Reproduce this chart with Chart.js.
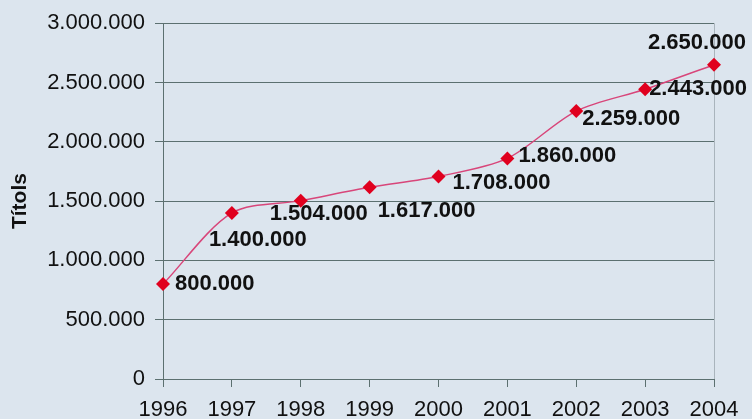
<!DOCTYPE html>
<html lang="ca">
<head>
<meta charset="UTF-8">
<title>Títols</title>
<script src="https://cdn.jsdelivr.net/npm/chart.js"></script>
<style>
  html, body { margin: 0; padding: 0; background: #dce5ee; }
  #wrap { width: 752px; height: 419px; }
</style>
</head>
<body>
<div id="wrap"><canvas id="chart" width="752" height="419"></canvas></div>
<script>
// data
const years = ['1996', '1997', '1998', '1999', '2000', '2001', '2002', '2003', '2004'];
const titols = [800000, 1400000, 1504000, 1617000, 1708000, 1860000, 2259000, 2443000, 2650000];

// label offsets relative to each point (left edge, vertical centre)
const labelDx = [12, -23, -31, 8, 14, 11, 6, 4, -66];
const labelDy = [0, 27, 13, 24, 7, -2, 8, 0, -22];

const fmt = v => v.toLocaleString('de-DE');
const FONT = '"Liberation Sans", Arial, sans-serif';

const pointLabels = {
    id: 'pointLabels',
    afterDatasetsDraw(chart) {
        const ctx = chart.ctx;
        const meta = chart.getDatasetMeta(0);
        ctx.save();
        ctx.font = 'bold 22px ' + FONT;
        ctx.fillStyle = '#111';
        ctx.textAlign = 'left';
        ctx.textBaseline = 'middle';
        meta.data.forEach((pt, i) => {
            ctx.fillText(fmt(titols[i]), pt.x + labelDx[i], pt.y + labelDy[i]);
        });
        ctx.restore();
    }
};

const frame = {
    id: 'frame',
    beforeDatasetsDraw(chart) {
        const a = chart.chartArea;
        const ctx = chart.ctx;
        ctx.save();
        ctx.strokeStyle = '#a9b4bc';
        ctx.lineWidth = 1;
        ctx.beginPath();
        ctx.moveTo(a.right + 0.5, a.top);
        ctx.lineTo(a.right + 0.5, a.bottom);
        ctx.stroke();
        ctx.restore();
    }
};

new Chart(document.getElementById('chart'), {
    type: 'line',
    data: {
        labels: years,
        datasets: [{
            data: titols,
            borderColor: '#d8467a',
            borderWidth: 1.5,
            tension: 0.3,
            pointStyle: 'rectRot',
            pointRadius: 7,
            pointHoverRadius: 7,
            pointBackgroundColor: '#e0001e',
            pointBorderColor: '#e0001e',
            pointBorderWidth: 0
        }]
    },
    options: {
        responsive: false,
        animation: false,
        layout: { padding: { top: 13, right: 38, left: 0, bottom: 0 } },
        plugins: { legend: { display: false }, tooltip: { enabled: false } },
        scales: {
            x: {
                offset: false,
                grid: { display: true, drawOnChartArea: false, drawTicks: true, tickLength: 8, color: '#5c7070' },
                border: { color: '#5c7070' },
                ticks: { color: '#111', font: { family: FONT, size: 22 }, padding: 10, maxRotation: 0 },
                afterFit(s) { s.height = 40; }
            },
            y: {
                min: 0,
                max: 3000000,
                grid: { color: '#5c7070', tickLength: 8 },
                border: { color: '#5c7070' },
                ticks: {
                    stepSize: 500000,
                    color: '#111',
                    font: { family: FONT, size: 22 },
                    padding: 10,
                    callback: v => fmt(v)
                },
                title: {
                    display: true,
                    text: 'Títols',
                    color: '#111',
                    font: { family: FONT, size: 21, weight: 'bold' },
                    padding: { top: 8, bottom: 0 }
                },
                afterFit(s) { s.width = 163; }
            }
        }
    },
    plugins: [frame, pointLabels]
});
</script>
</body>
</html>
